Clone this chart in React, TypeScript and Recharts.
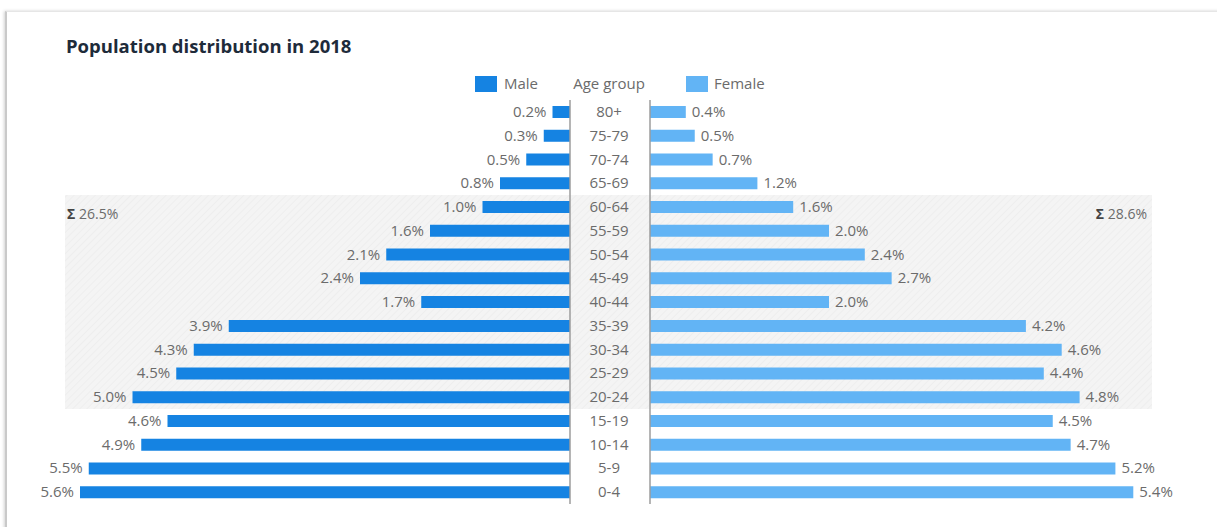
import React from 'react';
import { BarChart, Bar, XAxis, YAxis, ReferenceArea, ReferenceLine, LabelList } from 'recharts';

const ageGroups = ['80+', '75-79', '70-74', '65-69', '60-64', '55-59', '50-54', '45-49', '40-44', '35-39', '30-34', '25-29', '20-24', '15-19', '10-14', '5-9', '0-4'];
const maleShare = [0.2, 0.3, 0.5, 0.8, 1.0, 1.6, 2.1, 2.4, 1.7, 3.9, 4.3, 4.5, 5.0, 4.6, 4.9, 5.5, 5.6];
const femaleShare = [0.4, 0.5, 0.7, 1.2, 1.6, 2.0, 2.4, 2.7, 2.0, 4.2, 4.6, 4.4, 4.8, 4.5, 4.7, 5.2, 5.4];
const shadedRange = ['60-64', '20-24'];
const shadedTotals = ['26.5%', '28.6%'];
const legendLabels = ['Male', 'Age group', 'Female'];
const title = 'Population distribution in 2018';

const data = ageGroups.map((age, i) => ({ age, male: maleShare[i], female: femaleShare[i] }));

const W = 1217;
const H = 527;
const plotLeft = 65;
const plotRight = 1152;
const plotTop = 100;
const plotBottom = 504;
const maleZeroX = 570;
const femaleZeroX = 650;
const malePx = 87.5;
const femalePx = 89.5;
const maleDomain = [-(plotRight - maleZeroX) / malePx, (maleZeroX - plotLeft) / malePx];
const femaleDomain = [-(femaleZeroX - plotLeft) / femalePx, (plotRight - femaleZeroX) / femalePx];
const centerGap = (femaleZeroX - maleZeroX) / 2 + 1;
const centerX = femaleZeroX - centerGap;

const MALE = '#1583e2';
const FEMALE = '#62b4f5';
const TEXT = '#6b6b6b';
const FONT = '"Open Sans", sans-serif';

const MaleLabel = (p: any) => {
  const { x, y, width, height, value } = p;
  const left = Math.min(x, x + width);
  return (
    <text x={left - 6} y={y + height / 2} dy={5} textAnchor="end" fill={TEXT} fontSize={15} fontFamily={FONT}>
      {Number(value).toFixed(1)}%
    </text>
  );
};

const FemaleLabel = (p: any) => {
  const { x, y, width, height, value } = p;
  const right = Math.max(x, x + width);
  return (
    <text x={right + 6} y={y + height / 2} dy={5} textAnchor="start" fill={TEXT} fontSize={15} fontFamily={FONT}>
      {Number(value).toFixed(1)}%
    </text>
  );
};

const AgeLabel = (p: any) => {
  const { x, width, y, height, value } = p;
  const base = Math.min(x, x + width);
  return (
    <text x={base - centerGap} y={y + height / 2} dy={5} textAnchor="middle" fill={TEXT} fontSize={15} fontFamily={FONT}>
      {value}
    </text>
  );
};

const TotalLabel = (props: any) => {
  const vb = props.viewBox || {};
  return (
    <g fontFamily={FONT} fontSize={14}>
      <text x={vb.x + 2} y={vb.y + 24} textAnchor="start">
        <tspan fill="#444" fontWeight={700}>Σ </tspan>
        <tspan fill={TEXT}>{shadedTotals[0]}</tspan>
      </text>
      <text x={vb.x + vb.width - 5} y={vb.y + 24} textAnchor="end">
        <tspan fill="#444" fontWeight={700}>Σ </tspan>
        <tspan fill={TEXT}>{shadedTotals[1]}</tspan>
      </text>
    </g>
  );
};

export default function App() {
  return (
    <div style={{ position: 'absolute', left: 0, top: 0, width: W, height: H, background: '#fff', overflow: 'hidden', fontFamily: FONT }}>
      <div
        style={{
          position: 'absolute',
          left: 5,
          top: 11,
          width: 1240,
          height: 560,
          borderLeft: '2px solid #c9c9c9',
          borderTop: '1px solid #e6e6e6',
          boxShadow: '-1px 0 3px rgba(0,0,0,0.18)',
          background: '#fff',
        }}
      />
      <div style={{ position: 'absolute', left: 66, top: 33, fontSize: 18.5, fontWeight: 700, color: '#1e2b3a', whiteSpace: 'nowrap' }}>
        {title}
      </div>
      <div style={{ position: 'absolute', left: 475, top: 76, width: 22, height: 16, background: MALE }} />
      <div style={{ position: 'absolute', left: 504, top: 73, fontSize: 15, color: TEXT }}>{legendLabels[0]}</div>
      <div style={{ position: 'absolute', left: centerX - 60, width: 120, textAlign: 'center', top: 73, fontSize: 15, color: TEXT }}>{legendLabels[1]}</div>
      <div style={{ position: 'absolute', left: 686, top: 76, width: 22, height: 16, background: FEMALE }} />
      <div style={{ position: 'absolute', left: 714, top: 73, fontSize: 15, color: TEXT }}>{legendLabels[2]}</div>
      <div style={{ position: 'absolute', left: 0, top: 0 }}>
        <BarChart
          width={W}
          height={H}
          data={data}
          layout="vertical"
          margin={{ left: plotLeft, right: W - plotRight, top: plotTop, bottom: H - plotBottom }}
        >
          <defs>
            <pattern id="hatch" width="5" height="5" patternUnits="userSpaceOnUse" patternTransform="rotate(45)">
              <rect width="5" height="5" fill="#f4f4f4" />
              <line x1="0" y1="0" x2="0" y2="5" stroke="#ebebeb" strokeWidth="1.2" />
            </pattern>
          </defs>
          <XAxis xAxisId="m" type="number" domain={maleDomain} reversed hide allowDataOverflow />
          <XAxis xAxisId="f" type="number" domain={femaleDomain} hide allowDataOverflow />
          <YAxis yAxisId="m" type="category" dataKey="age" hide />
          <YAxis yAxisId="f" type="category" dataKey="age" hide />
          <ReferenceArea
            xAxisId="m"
            yAxisId="m"
            y1={shadedRange[0]}
            y2={shadedRange[1]}
            fill="url(#hatch)"
            fillOpacity={1}
            stroke="none"
            label={<TotalLabel />}
          />
          <ReferenceLine xAxisId="m" yAxisId="m" x={0} stroke="#9c9c9c" strokeWidth={1.5} />
          <ReferenceLine xAxisId="f" yAxisId="f" x={0} stroke="#9c9c9c" strokeWidth={1.5} />
          <Bar xAxisId="m" yAxisId="m" dataKey="male" fill={MALE} barSize={12} isAnimationActive={false}>
            <LabelList dataKey="male" content={<MaleLabel />} />
          </Bar>
          <Bar xAxisId="f" yAxisId="f" dataKey="female" fill={FEMALE} barSize={12} isAnimationActive={false}>
            <LabelList dataKey="female" content={<FemaleLabel />} />
            <LabelList dataKey="age" content={<AgeLabel />} />
          </Bar>
        </BarChart>
      </div>
    </div>
  );
}
